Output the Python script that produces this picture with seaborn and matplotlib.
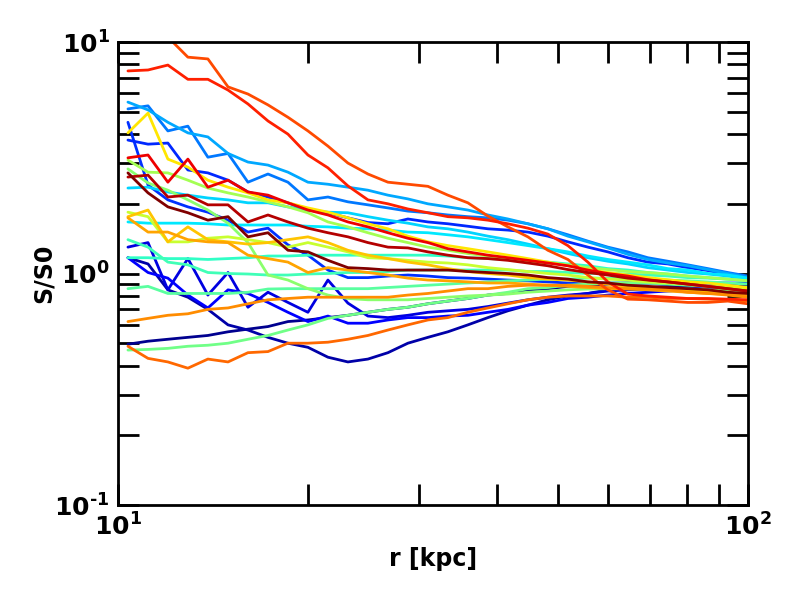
import numpy as np
import pandas as pd
import seaborn as sns
import matplotlib.pyplot as plt
from matplotlib.ticker import NullFormatter, FuncFormatter

sns.set_style("ticks")
plt.rcParams['font.family'] = ['DejaVu Sans']
plt.rcParams['font.weight'] = 'bold'
plt.rcParams['mathtext.default'] = 'bf'
plt.rcParams['axes.unicode_minus'] = False
for key in ['text.color', 'axes.labelcolor', 'xtick.color', 'ytick.color', 'axes.edgecolor']:
    plt.rcParams[key] = 'black'

# radius grid [kpc]
r = [10.37, 11.16, 12.0, 12.91, 13.89, 14.95, 16.08, 17.3, 18.61, 20.02, 21.54, 23.17,
     24.93, 26.82, 28.85, 31.04, 33.39, 35.92, 38.65, 41.58, 44.73, 48.12, 51.77, 55.69,
     59.91, 64.45, 69.34, 74.59, 80.25, 86.33, 92.87, 99.91]

# S/S0 profiles, one per run
navy_a = [0.495,0.51,0.52,0.53,0.54,0.56,0.575,0.59,0.62,0.63,0.645,0.66,0.68,0.70,0.715,0.74,0.76,0.78,0.807,0.82,0.85,0.86,0.88,0.89,0.90,0.91,0.91,0.91,0.91,0.91,0.90,0.89]
navy_b = [1.17,1.10,0.85,0.79,0.70,0.60,0.57,0.53,0.50,0.48,0.435,0.415,0.427,0.455,0.50,0.53,0.56,0.60,0.645,0.69,0.73,0.77,0.80,0.82,0.85,0.86,0.87,0.88,0.88,0.88,0.87,0.86]
blue_z1 = [1.30,1.36,0.85,1.16,0.807,1.01,0.715,0.83,0.75,0.68,0.937,0.745,0.655,0.645,0.66,0.68,0.69,0.70,0.72,0.745,0.77,0.79,0.807,0.82,0.84,0.85,0.857,0.86,0.86,0.86,0.857,0.85]
blue_z2 = [1.17,1.01,0.955,0.807,0.71,0.85,0.82,0.75,0.68,0.62,0.655,0.61,0.61,0.63,0.645,0.645,0.655,0.66,0.68,0.70,0.73,0.75,0.78,0.79,0.807,0.82,0.83,0.84,0.85,0.85,0.85,0.85]
blue_steep = [4.5,2.41,2.08,1.94,1.84,1.70,1.51,1.57,1.33,1.20,1.035,0.96,0.96,0.975,0.985,0.975,0.96,0.955,0.946,0.937,0.93,0.92,0.91,0.91,0.91,0.91,0.91,0.91,0.91,0.91,0.91,0.91]
blue_c = [3.77,3.62,3.66,2.8,2.72,2.53,2.25,2.14,2.02,1.88,1.83,1.74,1.66,1.64,1.72,1.67,1.64,1.6,1.56,1.54,1.51,1.45,1.37,1.30,1.24,1.17,1.12,1.10,1.06,1.03,0.99,0.96]
blue_b = [5.14,5.3,4.13,4.33,3.18,3.3,2.48,2.69,2.48,2.08,2.14,2.04,1.98,1.92,1.86,1.83,1.79,1.76,1.74,1.70,1.64,1.56,1.47,1.38,1.30,1.24,1.17,1.13,1.09,1.05,1.01,0.975]
lblue_a = [5.5,5.09,4.5,4.05,3.89,3.3,3.03,2.94,2.74,2.48,2.43,2.36,2.29,2.18,2.10,2.0,1.94,1.88,1.79,1.72,1.64,1.56,1.45,1.37,1.29,1.21,1.15,1.11,1.08,1.04,1.0,0.96]
cyan_a = [2.34,2.36,2.25,2.18,2.12,2.08,2.02,2.02,1.94,1.88,1.84,1.83,1.76,1.70,1.65,1.59,1.56,1.51,1.45,1.40,1.34,1.28,1.22,1.17,1.13,1.10,1.06,1.035,1.01,0.995,0.975,0.946]
cyan_b = [1.67,1.65,1.65,1.65,1.64,1.62,1.62,1.62,1.62,1.60,1.59,1.57,1.56,1.54,1.51,1.50,1.47,1.44,1.40,1.36,1.32,1.28,1.24,1.19,1.15,1.12,1.09,1.05,1.035,1.0,0.985,0.955]
teal = [1.17,1.17,1.16,1.16,1.15,1.16,1.17,1.19,1.19,1.20,1.20,1.20,1.20,1.20,1.20,1.20,1.19,1.17,1.16,1.15,1.13,1.12,1.10,1.08,1.05,1.035,1.01,0.995,0.975,0.96,0.946,0.93]
aqua = [1.40,1.30,1.12,1.09,1.01,1.0,0.995,0.985,0.985,0.995,1.0,1.01,1.01,1.02,1.035,1.035,1.035,1.035,1.035,1.035,1.02,1.02,1.01,1.0,1.0,0.995,0.985,0.975,0.96,0.955,0.946,0.93]
aqua_low = [0.86,0.88,0.82,0.82,0.82,0.82,0.83,0.857,0.86,0.86,0.86,0.86,0.86,0.87,0.88,0.89,0.90,0.91,0.92,0.93,0.937,0.946,0.946,0.955,0.955,0.955,0.946,0.937,0.93,0.92,0.91,0.90]
green_low = [0.467,0.47,0.475,0.485,0.49,0.50,0.52,0.54,0.57,0.60,0.64,0.66,0.68,0.70,0.715,0.74,0.76,0.78,0.807,0.83,0.86,0.87,0.89,0.90,0.91,0.91,0.91,0.90,0.89,0.88,0.87,0.857]
green_dive = [2.83,2.46,2.29,2.08,1.88,1.65,1.36,0.985,0.937,0.86,0.807,0.78,0.77,0.77,0.77,0.78,0.79,0.80,0.807,0.815,0.83,0.84,0.85,0.857,0.86,0.86,0.86,0.86,0.857,0.85,0.85,0.84]
green_a = [3.09,2.74,2.72,2.53,2.34,2.23,2.14,2.04,1.94,1.83,1.67,1.59,1.50,1.42,1.36,1.30,1.26,1.22,1.19,1.16,1.13,1.11,1.09,1.06,1.04,1.02,1.01,0.995,0.975,0.96,0.946,0.93]
ygreen = [1.84,1.76,1.37,1.37,1.42,1.44,1.40,1.36,1.30,1.36,1.30,1.24,1.17,1.16,1.14,1.12,1.11,1.09,1.06,1.04,1.02,1.0,0.985,0.96,0.946,0.937,0.92,0.91,0.90,0.88,0.87,0.86]
yellow = [4.05,4.93,3.12,2.88,2.53,2.36,2.23,2.08,2.02,1.92,1.84,1.74,1.64,1.56,1.45,1.37,1.32,1.28,1.24,1.20,1.16,1.12,1.08,1.04,1.01,0.985,0.96,0.94,0.92,0.91,0.89,0.87]
orange_zig = [1.76,1.88,1.37,1.59,1.40,1.37,1.34,1.36,1.40,1.44,1.36,1.26,1.20,1.16,1.12,1.09,1.05,1.02,1.0,0.985,0.96,0.946,0.937,0.92,0.90,0.88,0.86,0.857,0.84,0.83,0.815,0.80]
orange = [1.74,1.51,1.51,1.40,1.37,1.36,1.20,1.16,1.12,1.01,1.06,1.035,1.01,0.985,0.955,0.937,0.93,0.92,0.91,0.91,0.90,0.89,0.88,0.87,0.86,0.857,0.85,0.84,0.83,0.82,0.815,0.80]
orange_low = [0.62,0.64,0.66,0.67,0.70,0.71,0.74,0.77,0.78,0.79,0.79,0.79,0.79,0.79,0.807,0.82,0.84,0.86,0.86,0.88,0.89,0.89,0.89,0.88,0.87,0.86,0.857,0.85,0.83,0.82,0.807,0.79]
ored_low = [0.485,0.43,0.415,0.39,0.427,0.415,0.455,0.46,0.50,0.50,0.505,0.52,0.54,0.57,0.60,0.63,0.645,0.68,0.71,0.74,0.77,0.79,0.80,0.80,0.80,0.79,0.79,0.78,0.78,0.775,0.77,0.76]
ored_top = [13.1,12.2,10.5,8.6,8.45,6.4,5.96,5.35,4.73,4.13,3.55,3.0,2.69,2.48,2.43,2.38,2.18,2.02,1.77,1.59,1.44,1.26,1.15,0.985,0.85,0.775,0.77,0.76,0.75,0.75,0.76,0.74]
red_top = [7.5,7.57,7.95,6.9,6.9,6.2,5.4,4.56,4.0,3.25,2.86,2.39,2.08,2.0,1.9,1.83,1.76,1.74,1.70,1.64,1.57,1.48,1.32,1.12,0.92,0.815,0.80,0.79,0.78,0.78,0.775,0.77]
red_b = [3.16,3.25,2.48,3.12,2.36,2.53,2.25,2.18,2.02,1.88,1.79,1.67,1.59,1.50,1.42,1.36,1.28,1.24,1.20,1.17,1.14,1.11,1.08,1.035,1.0,0.975,0.94,0.92,0.90,0.88,0.86,0.84]
dred_b = [2.61,2.66,2.14,2.18,1.98,1.98,1.67,1.79,1.67,1.57,1.50,1.44,1.36,1.30,1.29,1.24,1.20,1.17,1.16,1.14,1.11,1.08,1.04,1.01,0.985,0.955,0.937,0.92,0.90,0.88,0.86,0.84]
dred = [2.72,2.23,1.94,1.83,1.70,1.76,1.44,1.50,1.26,1.24,1.14,1.06,1.05,1.035,1.035,1.035,1.035,1.02,1.01,1.0,0.985,0.96,0.946,0.92,0.91,0.89,0.88,0.87,0.86,0.85,0.83,0.82]

profiles = {
    'navy_a': navy_a, 'navy_b': navy_b, 'blue_z1': blue_z1, 'blue_z2': blue_z2,
    'blue_steep': blue_steep, 'blue_c': blue_c, 'blue_b': blue_b, 'lblue_a': lblue_a,
    'cyan_a': cyan_a, 'cyan_b': cyan_b, 'teal': teal, 'aqua': aqua, 'aqua_low': aqua_low,
    'green_low': green_low, 'green_dive': green_dive, 'green_a': green_a, 'ygreen': ygreen,
    'yellow': yellow, 'orange_zig': orange_zig, 'orange': orange, 'orange_low': orange_low,
    'ored_low': ored_low, 'ored_top': ored_top, 'red_top': red_top, 'red_b': red_b,
    'dred_b': dred_b, 'dred': dred,
}
colors = ['#00008f', '#0000a8', '#0000e0', '#0000ff', '#0030ff', '#0028ff', '#0078ff', '#00a8ff',
          '#00d4ff', '#00e8ff', '#30ffc6', '#40ffb7', '#5affa0', '#70ff87', '#8aff6d', '#a4ff53',
          '#c8ff30', '#ffe600', '#ffc400', '#ffa400', '#ff8c00', '#ff6800', '#ff4a00', '#ff2000',
          '#ee0000', '#b40000', '#800000']

df = pd.concat([pd.DataFrame({'r': r, 'S': v, 'run': k}) for k, v in profiles.items()],
               ignore_index=True)


def pow10(val, pos):
    exp = int(round(np.log10(val)))
    return r'$\mathbf{10^{%s}}$' % str(exp).replace('-', '\u2010')


fig = plt.figure(figsize=(8, 6), dpi=100)
ax = fig.add_axes([0.1475, 0.1583, 0.7875, 0.7717])
sns.lineplot(data=df, x='r', y='S', hue='run', palette=colors, estimator=None,
             sort=False, legend=False, linewidth=2, ax=ax)
ax.set_xscale('log')
ax.set_yscale('log')
ax.set_xlim(10, 100)
ax.set_ylim(0.1, 10)
ax.xaxis.set_major_formatter(FuncFormatter(pow10))
ax.yaxis.set_major_formatter(FuncFormatter(pow10))
ax.xaxis.set_minor_formatter(NullFormatter())
ax.yaxis.set_minor_formatter(NullFormatter())
ax.tick_params(which='both', direction='in', top=True, right=True, length=15, width=2,
               labelsize=18, pad=6)
for s in ax.spines.values():
    s.set_linewidth(2)
ax.set_xlabel('r [kpc]', fontsize=17, fontweight='bold', labelpad=5)
ax.set_ylabel('S/S0', fontsize=17, fontweight='bold', labelpad=-1)

fig.savefig('out.png', dpi=100)
